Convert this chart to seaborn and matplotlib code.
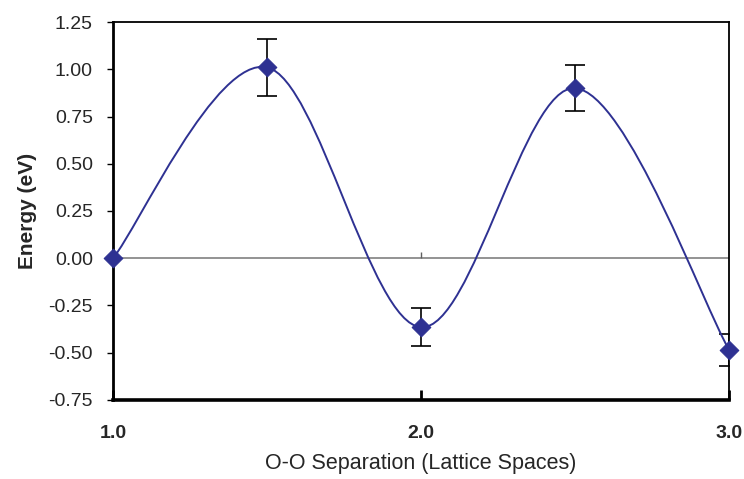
"""
Energía frente a separación O-O, con barras de error y curva suavizada.
"""

import numpy as np
import matplotlib
matplotlib.use("Agg")
import matplotlib.pyplot as plt
from matplotlib.path import Path
from matplotlib.patches import PathPatch
import seaborn as sns

# Datos
separation = [1.0, 1.5, 2.0, 2.5, 3.0]
energy = [0.0, 1.01, -0.365, 0.90, -0.485]
energy_err = [0.0, 0.15, 0.10, 0.12, 0.085]
x_ticks = [1.0, 2.0, 3.0]
y_ticks = [-0.75, -0.5, -0.25, 0.0, 0.25, 0.5, 0.75, 1.0, 1.25]

navy = "#2e3192"

sns.set_theme(style="white")
plt.rcParams['font.family'] = ['Liberation Sans', 'DejaVu Sans']

fig = plt.figure(figsize=(7.44, 4.79), dpi=100)
ax = fig.add_axes([0.152, 0.165, 0.828, 0.789])

# Curva suavizada tipo Excel (Bezier con tangentes Catmull-Rom)
pts = np.column_stack([separation, energy])
n = len(pts)
verts = [pts[0]]
codes = [Path.MOVETO]
for i in range(n - 1):
    p0 = pts[max(i - 1, 0)]
    p1 = pts[i]
    p2 = pts[i + 1]
    p3 = pts[min(i + 2, n - 1)]
    c1 = p1 + (p2 - p0) / 6.0
    c2 = p2 - (p3 - p1) / 6.0
    verts += [c1, c2, p2]
    codes += [Path.CURVE4] * 3
ax.add_patch(PathPatch(Path(verts, codes), facecolor="none",
                       edgecolor=navy, lw=1.4, zorder=3))

# Línea del cero
ax.axhline(0, color="#808080", lw=1.2, zorder=1)
ax.vlines(x_ticks[1:2], 0, 0.032, color="#606060", lw=1.0, zorder=1)

# Barras de error
ax.errorbar(separation[1:], energy[1:], yerr=energy_err[1:], fmt="none",
            ecolor="black", elinewidth=1.2, capsize=7, capthick=1.2, zorder=2)

sns.scatterplot(x=separation, y=energy, marker="D", s=90, color=navy,
                edgecolor=navy, ax=ax, zorder=4, clip_on=False)

ax.set_xlim(1.0, 3.0)
ax.set_ylim(-0.75, 1.25)
ax.set_xticks(x_ticks)
ax.set_xticklabels([f"{v:.1f}" for v in x_ticks], fontweight="bold", fontsize=14)
ax.set_yticks(y_ticks)
ax.set_yticklabels([f"{v:.2f}" for v in y_ticks], fontsize=14)

ax.tick_params(axis="y", direction="out", length=4.5, width=1, color="black",
               left=True, pad=10)
ax.tick_params(axis="x", direction="in", length=7, width=2, color="black",
               bottom=True, pad=18)

for side in ["top", "right"]:
    ax.spines[side].set_color("black")
    ax.spines[side].set_linewidth(1.3)
ax.spines["left"].set_color("black")
ax.spines["left"].set_linewidth(2.0)
ax.spines["bottom"].set_color("black")
ax.spines["bottom"].set_linewidth(2.6)

ax.set_xlabel("O-O Separation (Lattice Spaces)", fontsize=15.5, labelpad=8)
ax.set_ylabel("Energy (eV)", fontsize=15, fontweight="bold", labelpad=8)

fig.savefig("out.png", dpi=100)
